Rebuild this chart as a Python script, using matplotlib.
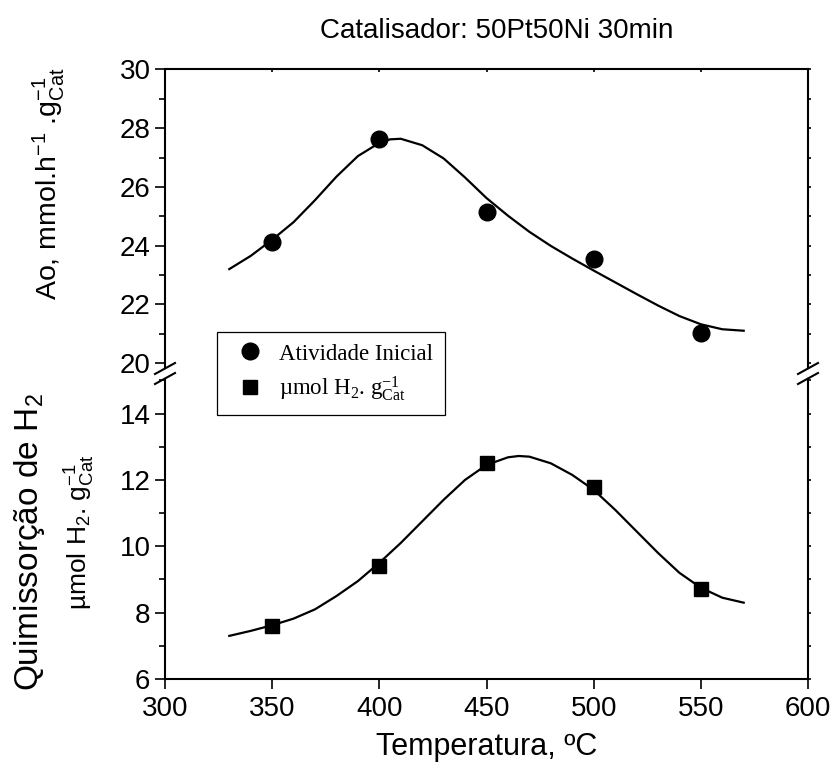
import matplotlib
matplotlib.use("Agg")
import matplotlib.pyplot as plt
from matplotlib.lines import Line2D
from matplotlib.ticker import MultipleLocator

# ---------------- data ----------------
temp_pts = [350, 400, 450, 500, 550]
ao_pts = [24.13, 27.62, 25.15, 23.55, 21.02]          # Atividade Inicial
h2_pts = [7.6, 9.4, 12.5, 11.8, 8.72]                 # umol H2 / g cat

# fitted curves
fit_temp_top = [330, 340, 350, 360, 370, 380, 390, 400, 405, 410, 420, 430, 440,
                450, 460, 470, 480, 490, 500, 510, 520, 530, 540, 550, 560, 570]
fit_ao = [23.2, 23.65, 24.2, 24.8, 25.55, 26.35, 27.05, 27.5, 27.62, 27.64, 27.42,
          26.97, 26.32, 25.62, 25.02, 24.47, 23.99, 23.56, 23.15, 22.75, 22.35, 21.96,
          21.6, 21.32, 21.15, 21.1]
fit_temp_bot = [330, 340, 350, 360, 370, 380, 390, 400, 410, 420, 430, 440, 450,
                460, 465, 470, 480, 490, 500, 510, 520, 530, 540, 550, 560, 570]
fit_h2 = [7.3, 7.45, 7.62, 7.82, 8.1, 8.5, 8.95, 9.5, 10.1, 10.75, 11.4, 12.0, 12.45,
          12.68, 12.72, 12.7, 12.5, 12.15, 11.7, 11.1, 10.45, 9.8, 9.2, 8.75, 8.45, 8.3]

xticks = [300, 350, 400, 450, 500, 550, 600]
yticks_top = [20, 22, 24, 26, 28, 30]
yticks_bot = [6, 8, 10, 12, 14]

title = "Catalisador: 50Pt50Ni 30min"
xlabel = "Temperatura, ºC"
ylabel_top = r"Ao, mmol.h$\mathregular{^{-1}}$ .g$\mathregular{_{Cat}^{-1}}$"
ylabel_bot1 = r"Quimissorção de H$\mathregular{_2}$"
ylabel_bot2 = r"µmol H$\mathregular{_2}$. g$\mathregular{_{Cat}^{-1}}$"
leg_labels = ["Atividade Inicial", r"µmol H$\mathregular{_2}$. g$\mathregular{_{Cat}^{-1}}$"]

# ---------------- style ----------------
plt.rcParams['font.family'] = ['Liberation Sans', 'DejaVu Sans']
W, H = 832, 772
fig = plt.figure(figsize=(W / 100, H / 100), dpi=100)

L, R = 165, 808
top_t, top_b = 69.5, 368
bot_t, bot_b = 379, 679

def fx(px):
    return px / W

def fy(py):
    return 1 - py / H

ax_top = fig.add_axes([fx(L), fy(top_b), fx(R - L), (top_b - top_t) / H])
ax_bot = fig.add_axes([fx(L), fy(bot_b), fx(R - L), (bot_b - bot_t) / H])

lw_spine = 1.5
for ax in (ax_top, ax_bot):
    for s in ax.spines.values():
        s.set_linewidth(lw_spine)
    ax.set_xlim(300, 600)
    ax.set_xticks(xticks)

# top axes
ax_top.spines['bottom'].set_visible(False)
ax_top.set_ylim(19.83, 30)
ax_top.set_yticks(yticks_top)
ax_top.yaxis.set_minor_locator(MultipleLocator(1))
ax_top.tick_params(axis='x', which='both', bottom=False, labelbottom=False,
                   top=True, direction='in', length=2.5, width=1.2)
ax_top.tick_params(axis='y', which='major', left=True, right=True, direction='out',
                   length=7.5, width=1.2, labelsize=20, pad=3)
ax_top.tick_params(axis='y', which='minor', left=True, right=True, direction='out',
                   length=4, width=1.2)

# bottom axes
ax_bot.spines['top'].set_visible(False)
ax_bot.set_ylim(6, 15.04)
ax_bot.set_yticks(yticks_bot)
ax_bot.yaxis.set_minor_locator(MultipleLocator(1))
ax_bot.tick_params(axis='x', which='major', bottom=True, top=False, direction='out',
                   length=7.5, width=1.2, labelsize=20, pad=5)
ax_bot.tick_params(axis='y', which='major', left=True, right=True, direction='out',
                   length=7.5, width=1.2, labelsize=20, pad=3)
ax_bot.tick_params(axis='y', which='minor', left=True, right=True, direction='out',
                   length=4, width=1.2)
for ax in (ax_top, ax_bot):
    for t in ax.yaxis.get_ticklines(minor=False)[1::2]:
        t.set_markersize(2)
    for t in ax.yaxis.get_ticklines(minor=True)[1::2]:
        t.set_markersize(2)

# data
ax_top.plot(fit_temp_top, fit_ao, color='black', lw=1.6, zorder=2,
            solid_joinstyle='round')
ax_top.plot(temp_pts, ao_pts, 'o', color='black', markersize=12, zorder=3, clip_on=False)
ax_bot.plot(fit_temp_bot, fit_h2, color='black', lw=1.6, zorder=2,
            solid_joinstyle='round')
ax_bot.plot(temp_pts, h2_pts, 's', color='black', markersize=10.5, zorder=3, clip_on=False)

ax_bot.set_xlabel(xlabel, fontsize=22, labelpad=7)

# axis break marks
for xp in (L, R):
    for yc in (368.5, 378.5):
        fig.add_artist(Line2D([fx(xp - 10), fx(xp + 10)], [fy(yc + 5.5), fy(yc - 5.5)],
                              color='black', lw=1.5))

# labels
fig.text(fx(497), fy(31), title, ha='center', va='center', fontsize=20)
fig.text(fx(49), fy(184), ylabel_top, rotation=90, ha='center', va='center', fontsize=20.5)
fig.text(fx(30), fy(542), ylabel_bot1, rotation=90, ha='center', va='center', fontsize=24)
fig.text(fx(80), fy(532), ylabel_bot2, rotation=90, ha='center', va='center', fontsize=19)

# legend
handles = [Line2D([], [], marker='o', color='black', linestyle='none', markersize=12),
           Line2D([], [], marker='s', color='black', linestyle='none', markersize=10)]
leg = fig.legend(handles, leg_labels, loc='upper left',
                 bbox_to_anchor=(fx(217), fy(332)), borderaxespad=0,
                 prop={'family': 'Liberation Serif', 'size': 16.5},
                 frameon=True, fancybox=False, framealpha=1, edgecolor='black',
                 borderpad=0.5, handlelength=1.88, handletextpad=0.33,
                 labelspacing=0.44)
leg.get_frame().set_linewidth(0.9)
leg.set_zorder(10)

fig.savefig("out.png", dpi=100)
